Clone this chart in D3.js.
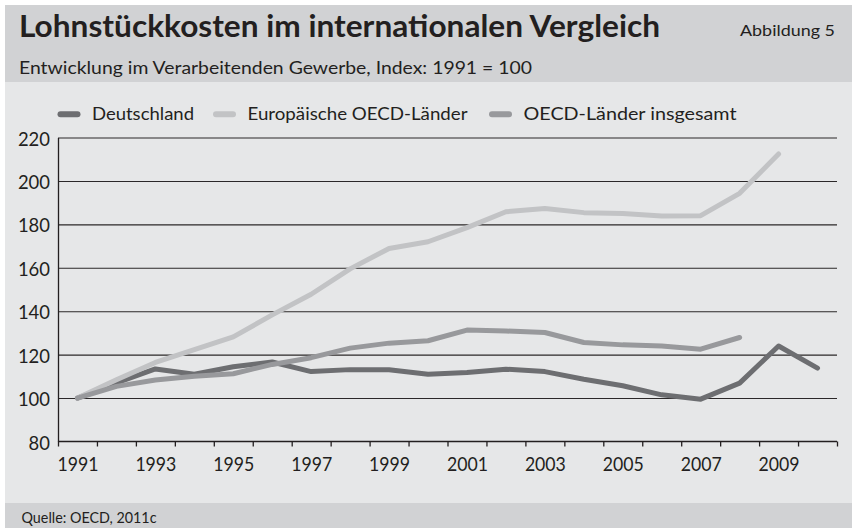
<!DOCTYPE html>
<html><head><meta charset="utf-8">
<script src="https://cdn.jsdelivr.net/npm/d3@7"></script>
<style>
html,body{margin:0;padding:0;background:#fff;}
svg{display:block;}
text{font-family:Lato,"Open Sans",sans-serif;fill:#231f20;}
</style></head>
<body>
<script>
// ---- data ----
const years = [1991,1992,1993,1994,1995,1996,1997,1998,1999,2000,2001,2002,2003,2004,2005,2006,2007,2008,2009,2010];
const deutschland = [100,107,113.4,111,114.4,116.6,112.2,113.1,113,111,111.8,113.3,112.2,108.7,105.7,101.5,99.5,106.9,124,113.8];
const europaOECD = [100,108.4,116.4,122.3,128.2,138.3,147.8,159.5,168.9,172,178.5,185.8,187.3,185.4,185,183.9,184,194.3,212.4,null];
const oecdGesamt = [100,105.4,108.3,110.1,111.2,115.5,118.6,123,125.3,126.4,131.3,130.9,130.2,125.6,124.5,124,122.5,127.9,null,null];
const seriesNames = ["Deutschland","Europäische OECD-Länder","OECD-Länder insgesamt"];
const yTicks = [80,100,120,140,160,180,200,220];
const yearLabels = [1991,1993,1995,1997,1999,2001,2003,2005,2007,2009];
const title = "Lohnstückkosten im internationalen Vergleich";
const subtitle = "Entwicklung im Verarbeitenden Gewerbe, Index: 1991 = 100";
const figLabel = "Abbildung 5";
const source = "Quelle: OECD, 2011c";

// ---- styles ----
const colors = ["#6d6e71","#c2c3c5","#98999c"];
const W = 859, H = 528;
const svg = d3.select("body").append("svg").attr("width",W).attr("height",H);

function fit(sel, w){ sel.attr("textLength", w).attr("lengthAdjust","spacingAndGlyphs"); return sel; }

// backgrounds
svg.append("rect").attr("x",0).attr("y",0).attr("width",W).attr("height",H).attr("fill","#fff");
svg.append("rect").attr("x",5).attr("y",5).attr("width",847).attr("height",77).attr("fill","#d1d2d4");
svg.append("rect").attr("x",5).attr("y",82).attr("width",847).attr("height",421).attr("fill","#e6e7e8");
svg.append("rect").attr("x",5).attr("y",503).attr("width",847).attr("height",25).attr("fill","#d1d2d4");

// header texts
fit(svg.append("text").attr("x",19).attr("y",37).attr("font-size",31).attr("font-weight",700).text(title), 641);
fit(svg.append("text").attr("x",740).attr("y",36).attr("font-size",15.5).text(figLabel), 95);
fit(svg.append("text").attr("x",19).attr("y",73.5).attr("font-size",17).text(subtitle), 513);
fit(svg.append("text").attr("x",21.5).attr("y",523).attr("font-size",14.5).text(source), 135);

// scales
const x0 = 58, x1 = 837;
const x = d3.scaleLinear().domain([years[0]-0.5, years[years.length-1]+0.5]).range([x0,x1]);
const y = d3.scaleLinear().domain([80,220]).range([441.5,137.5]);

// grid
const grid = svg.append("g").attr("transform",`translate(${x0},0)`)
  .call(d3.axisRight(y).tickValues(yTicks.slice(1)).tickSize(x1-x0).tickFormat(""));
grid.select(".domain").remove();
grid.selectAll("line").attr("stroke","#2b2829").attr("stroke-width",1.1);

// y axis
const ya = svg.append("g").attr("transform",`translate(${x0},0)`)
  .call(d3.axisLeft(y).tickValues(yTicks).tickSize(0).tickPadding(8).tickFormat(d3.format("d")));
ya.select(".domain").attr("stroke","#231f20").attr("stroke-width",1.3);
ya.selectAll("text").attr("font-size",20).attr("font-family","Lato,sans-serif").attr("fill","#231f20")
  .attr("dy","0.38em").attr("textLength",d=>String(d).length*10.7).attr("lengthAdjust","spacingAndGlyphs");

// x axis (ticks at year boundaries)
const bounds = d3.range(years[0]-0.5, years[years.length-1]+1, 1);
const xa = svg.append("g").attr("transform",`translate(0,${y(80)})`)
  .call(d3.axisBottom(x).tickValues(bounds).tickSize(5).tickFormat(""));
xa.select(".domain").attr("stroke","#231f20").attr("stroke-width",1.3).attr("d",`M${x0},0H${x1}`);
xa.selectAll("line").attr("stroke","#231f20").attr("stroke-width",1.3);
const xl = svg.append("g").attr("transform",`translate(0,${y(80)})`)
  .call(d3.axisBottom(x).tickValues(yearLabels).tickSize(0).tickPadding(15).tickFormat(d3.format("d")));
xl.select(".domain").remove();
xl.selectAll("text").attr("font-size",20).attr("font-family","Lato,sans-serif").attr("fill","#231f20")
  .attr("textLength",41).attr("lengthAdjust","spacingAndGlyphs");

// lines
const allSeries = [deutschland, europaOECD, oecdGesamt];
const line = d3.line().defined(d=>d.v!=null).x(d=>x(d.year)).y(d=>y(d.v));
allSeries.forEach((vals,i)=>{
  const pts = years.map((yr,j)=>({year:yr, v:vals[j]}));
  svg.append("path").datum(pts).attr("d",line).attr("fill","none")
    .attr("stroke",colors[i]).attr("stroke-width",5)
    .attr("stroke-linejoin","round").attr("stroke-linecap","round");
});

// legend
const legX = [60.5, 216, 492];
const legW = [102, 220, 213];
const leg = svg.append("g");
seriesNames.forEach((n,i)=>{
  leg.append("line").attr("x1",legX[i]).attr("x2",legX[i]+17).attr("y1",114.3).attr("y2",114.3)
    .attr("stroke",colors[i]).attr("stroke-width",6).attr("stroke-linecap","round");
  fit(leg.append("text").attr("x",legX[i]+31.5).attr("y",119.5).attr("font-size",17.5).text(n), legW[i]);
});
</script>
</body></html>
